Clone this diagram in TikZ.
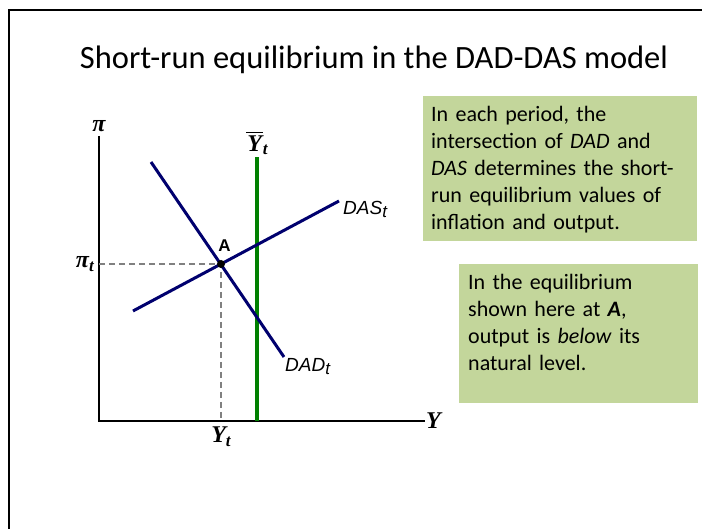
\documentclass[tikz,border=0pt]{standalone}
\usepackage{fontspec}
\setmainfont{Carlito}
\newfontfamily\serlblfont{Liberation Serif}
\newfontfamily\sanslblfont{Liberation Sans}
\usetikzlibrary{arrows.meta}
\definecolor{curvecol}{RGB}{0,0,110}
\definecolor{natcol}{RGB}{0,128,0}
\definecolor{boxcol}{RGB}{195,214,155}
\colorlet{axiscol}{black}
\colorlet{auxcol}{black!50!white}
\tikzset{
  axis/.style={line width=1.5pt, axiscol},
  curve/.style={line width=3pt, curvecol},
  natline/.style={line width=3.4pt, natcol},
  guide/.style={line width=1.5pt, auxcol, dash pattern=on 6pt off 4pt},
  mathlbl/.style={font=\serlblfont\bfseries\itshape\fontsize{24}{24}\selectfont, inner sep=1pt},
  curvelbl/.style={font=\sanslblfont\itshape\fontsize{19}{19}\selectfont, inner sep=1pt},
  notebox/.style={fill=boxcol, anchor=north west, align=left, inner xsep=8pt,
    inner ysep=9.5pt, text height=16pt, font=\fontsize{22}{27}\selectfont}
}
\newcommand{\sublbl}[2]{#1\raisebox{-0.3ex}{\fontsize{17}{17}\selectfont #2}}
\newcommand{\barlbl}[1]{\vbox{\hrule height 1.4pt\kern2.5pt\hbox{\kern1pt#1\kern1pt}}}

\begin{document}
\begin{tikzpicture}[x=1pt, y=-1pt]

  \useasboundingbox (0,0) rectangle (702,529);

  % Slide frame.
  \draw[line width=2pt] (9,529) -- (9,10.5) -- (702,10.5);

  % Title.
  \node[font=\fontsize{32.5}{32.5}\selectfont] (title) at (374,60)
    {Short-run equilibrium in the DAD-DAS model};

  % Axes.
  \coordinate (O) at (99,421);
  \coordinate (ytop) at (99,136);
  \coordinate (xend) at (425,421);
  \draw[axis] (ytop) -- (O) -- (xend);
  \node[mathlbl] (pilbl) at (99,126) {π};
  \node[mathlbl, right] (ylbl) at (xend) {Y};

  % Equilibrium point and guide lines.
  \coordinate (A) at (221,264);
  \coordinate (pit) at (99,264);
  \coordinate (yt) at (221,421);
  \draw[guide] (pit) -- (A) -- (yt);
  \node[mathlbl, left=4pt] (pitlbl) at (pit) {\sublbl{π}{t}};
  \node[mathlbl, below=5pt] (ytlbl) at (yt) {\sublbl{Y}{t}};

  % Natural level of output.
  \coordinate (ynbot) at (257,421);
  \coordinate (yntop) at (257,157);
  \draw[natline] (ynbot) -- (yntop);
  \node[mathlbl, above=1pt] (ynlbl) at (yntop) {\sublbl{\barlbl{Y}}{t}};

  % DAD and DAS curves.
  \coordinate (dadtop) at (151,162);
  \coordinate (dadbot) at (284,357);
  \coordinate (dasbot) at (133,311);
  \coordinate (dastop) at (339,201);
  \draw[curve] (dadtop) -- (dadbot);
  \draw[curve] (dasbot) -- (dastop);
  \node[curvelbl, anchor=north west] (dadlbl) at (dadbot) {\sublbl{DAD}{t}};
  \node[curvelbl, anchor=west] (daslbl) at ([xshift=3pt,yshift=-8pt]dastop)
    {\sublbl{DAS}{t}};

  \fill (A) circle (4pt);
  \node[font=\sanslblfont\bfseries\fontsize{17}{17}\selectfont] (Albl)
    at (224.5,245.5) {A};

  % Notes.
  \node[notebox, text width=258pt, text depth=110pt] (note1) at (423,96)
    {In each period, the\\
     intersection of \textit{DAD} and\\
     \textit{DAS} determines the short-\\
     run equilibrium values of\\
     inflation and output.};
  \node[notebox, inner xsep=9pt, text width=221pt, text depth=104pt] (note2)
    at (459,264)
    {In the equilibrium\\
     shown here at \textbf{\textit{A}},\\
     output is \textit{below} its\\
     natural level.};

\end{tikzpicture}
\end{document}
